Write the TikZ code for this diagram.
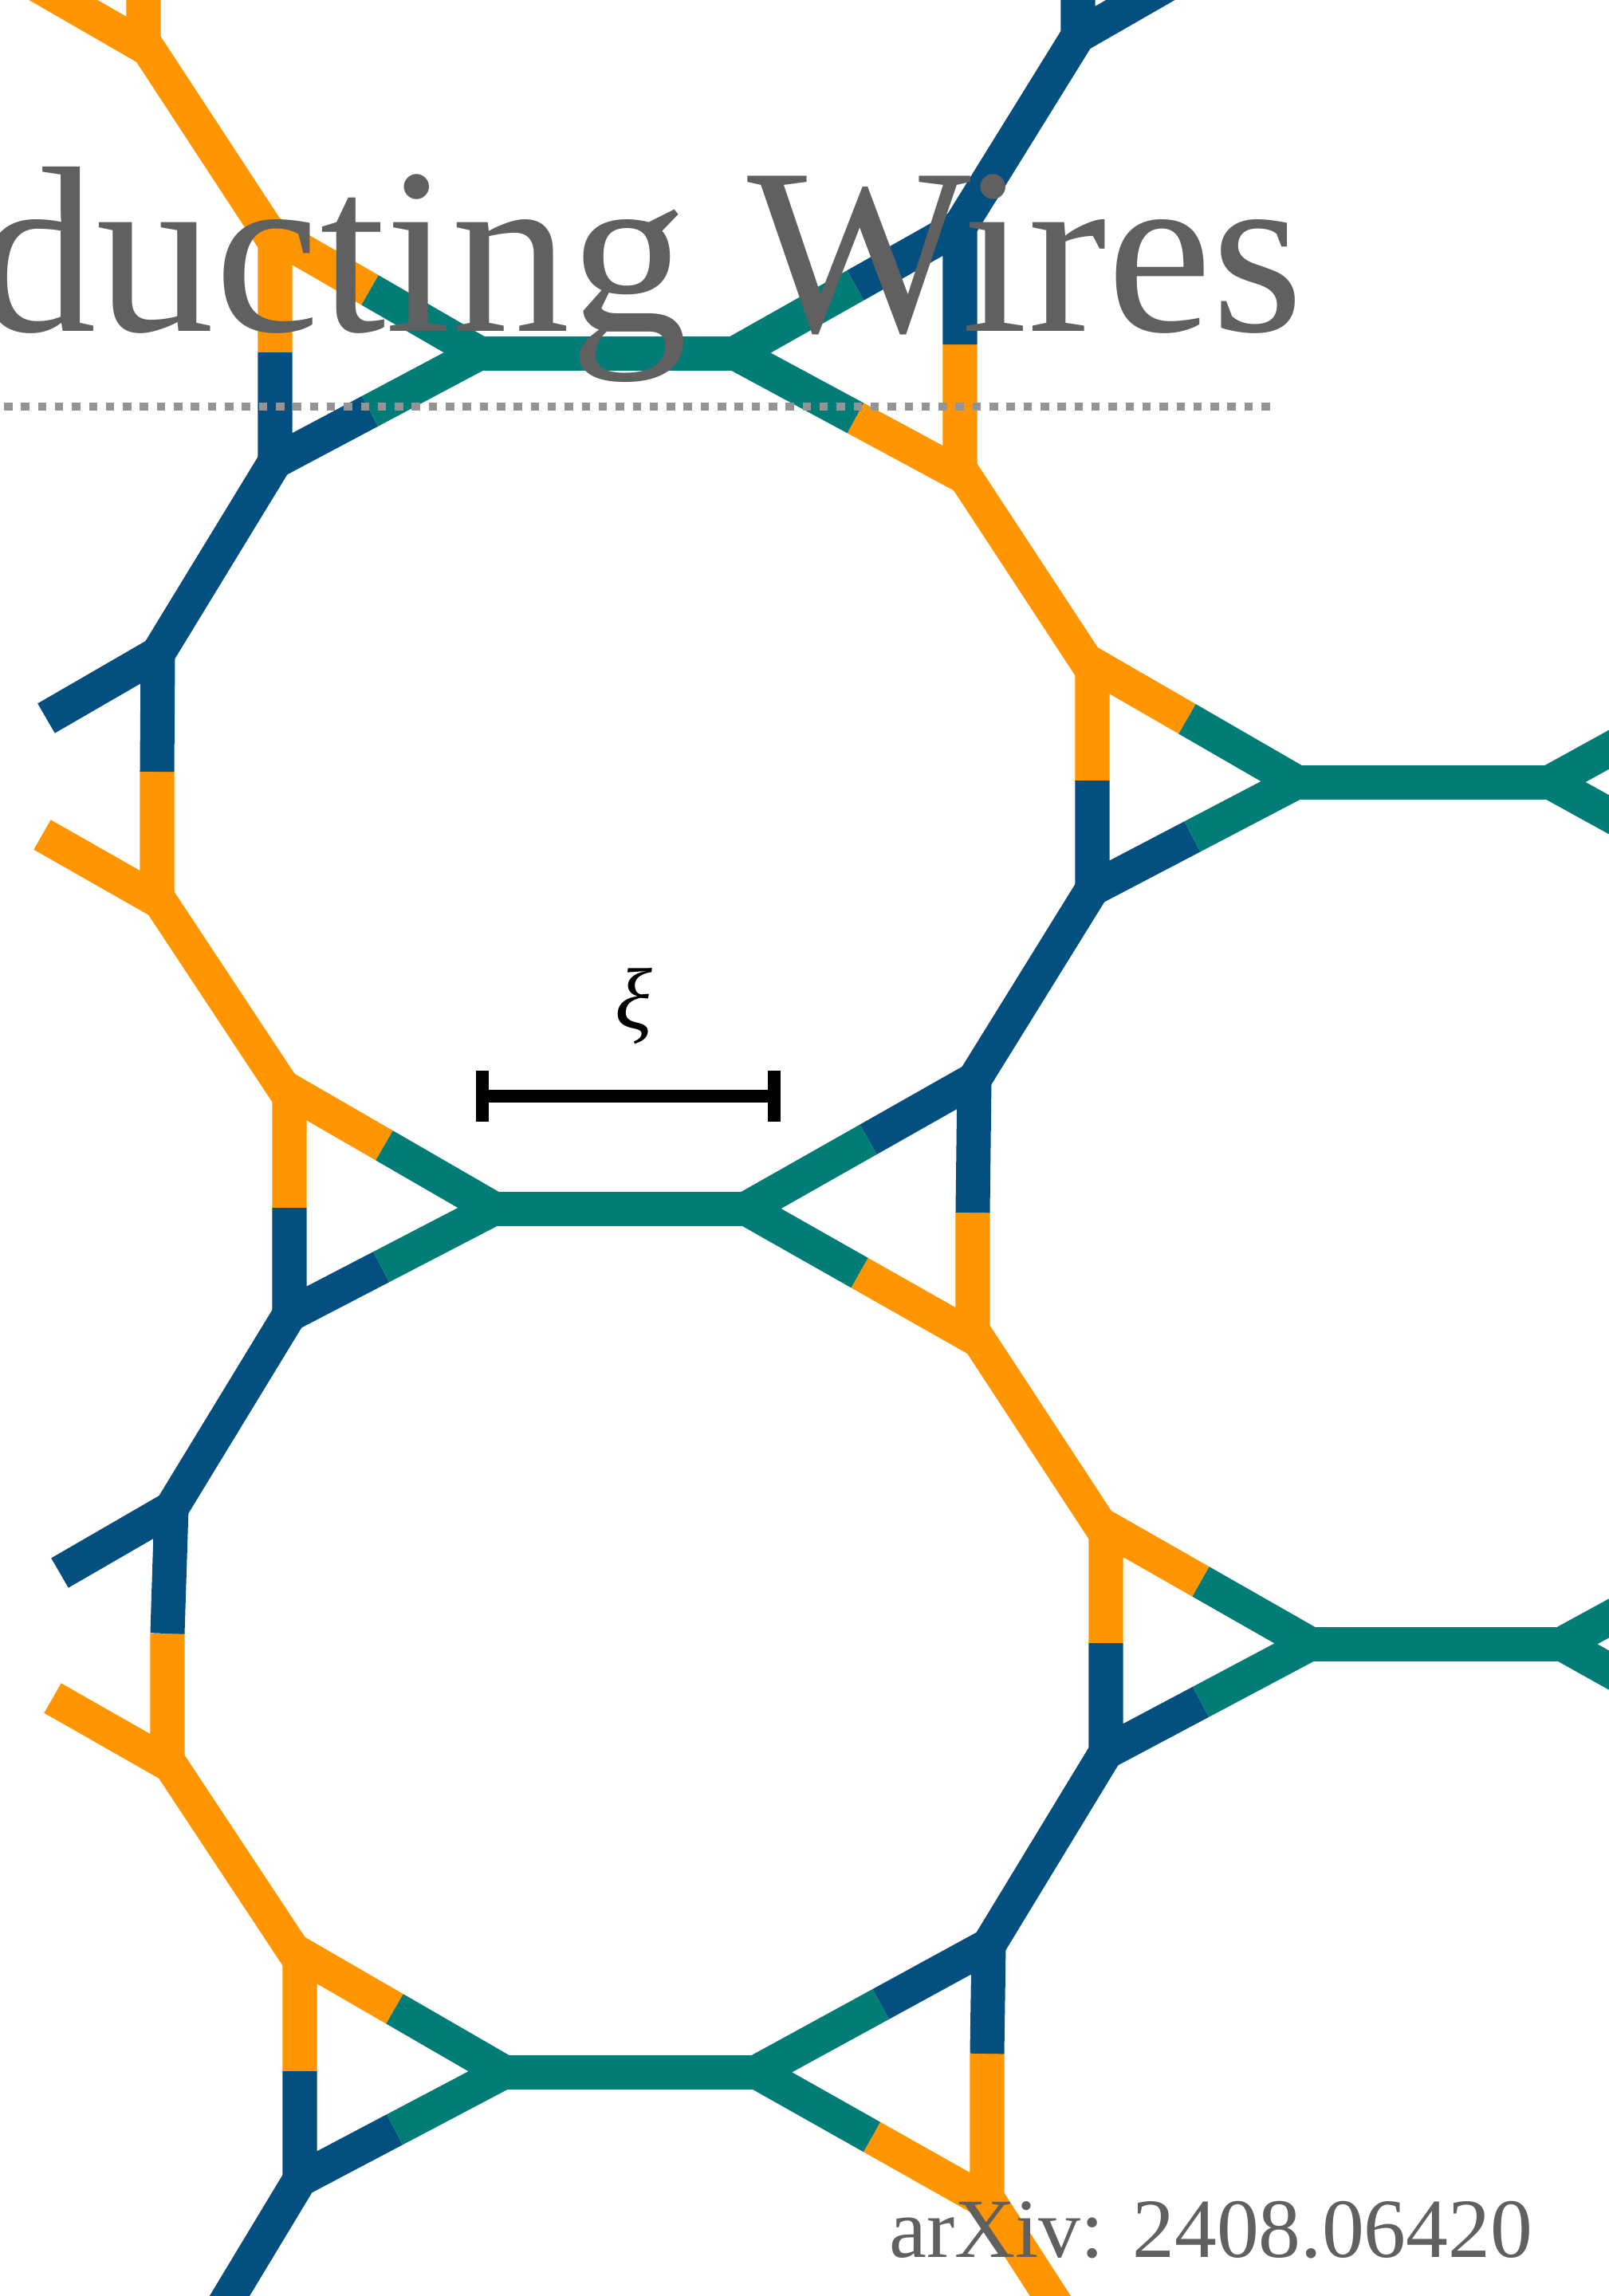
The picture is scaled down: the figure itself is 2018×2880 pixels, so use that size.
\documentclass[tikz,border=0pt]{standalone}
\usepackage{fontspec}
\usepackage{xcolor}
\usetikzlibrary{arrows.meta,calc}
\setmainfont{Liberation Serif}
\definecolor{wireorange}{RGB}{255,149,0}
\definecolor{wireblue}{RGB}{2,79,128}
\definecolor{wireteal}{RGB}{2,124,118}
\definecolor{inkgray}{RGB}{96,96,96}
\definecolor{dotgray}{RGB}{148,148,148}

\begin{document}
\begin{tikzpicture}[
    x=0.01cm, y=-0.01cm,
    orangewire/.style={draw=wireorange, line width=0.43cm, line join=miter},
    bluewire/.style={draw=wireblue, line width=0.43cm, line join=miter},
    tealwire/.style={draw=wireteal, line width=0.43cm, line join=miter},
    scalebar/.style={{Bar[width=0.64cm,line width=0.16cm,length=0pt]}-{Bar[width=0.64cm,line width=0.16cm,length=0pt]}, line width=0.16cm},
    bigtext/.style={text=inkgray, inner sep=0pt, font=\fontsize{84.5pt}{90pt}\selectfont},
    smalltext/.style={text=inkgray, inner sep=0pt, font=\fontsize{30.05pt}{34pt}\selectfont}
]
    \useasboundingbox (0,0) rectangle (2018,2880);
    \clip (0,0) rectangle (2018,2880);

    % upper row
    \coordinate (topl) at (180,58);
    \coordinate (topr) at (1352,45);
    \coordinate (lt1) at (345,295);
    \coordinate (ls1) at (345,442);
    \coordinate (lb1) at (345,579);
    \coordinate (la1) at (601,443);
    \coordinate (ra1) at (922,443);
    \coordinate (rt1) at (1204,284);
    \coordinate (rs1) at (1204,432);
    \coordinate (rb1) at (1204,595);
    % middle row
    \coordinate (lt2) at (363,1368);
    \coordinate (ls2) at (363,1515);
    \coordinate (lb2) at (363,1649);
    \coordinate (la2) at (619,1516);
    \coordinate (ra2) at (936,1516);
    \coordinate (rt2) at (1222,1354);
    \coordinate (rs2) at (1220,1521);
    \coordinate (rb2) at (1220,1677);
    % lower row
    \coordinate (lt3) at (376,2451);
    \coordinate (ls3) at (376,2598);
    \coordinate (lb3) at (376,2734);
    \coordinate (la3) at (632,2599);
    \coordinate (ra3) at (949,2599);
    \coordinate (rt3) at (1240,2440);
    \coordinate (rs3) at (1238,2576);
    \coordinate (rb3) at (1238,2762);
    % right column
    \coordinate (ct1) at (1370,833);
    \coordinate (cs1) at (1370,979);
    \coordinate (cb1) at (1370,1115);
    \coordinate (ca1) at (1626,981);
    \coordinate (cr1) at (1944,981);
    \coordinate (ct2) at (1387,1916);
    \coordinate (cs2) at (1387,2061);
    \coordinate (cb2) at (1387,2198);
    \coordinate (ca2) at (1643,2062);
    \coordinate (cr2) at (1959,2062);
    % left column
    \coordinate (et1) at (198,820);
    \coordinate (es1) at (197,968);
    \coordinate (eb1) at (197,1129);
    \coordinate (ef1) at (58,901);
    \coordinate (eg1) at (53,1047);
    \coordinate (et2) at (215,1892);
    \coordinate (es2) at (210,2049);
    \coordinate (eb2) at (210,2212);
    \coordinate (ef2) at (75,1973);
    \coordinate (eg2) at (66,2130);
    % ends of the long orange lines
    \coordinate (on1) at (180,52);
    \coordinate (of1) at (345,304);
    \coordinate (on2) at (1204,588);
    \coordinate (of2) at (1370,841);
    \coordinate (on3) at (197,1125);
    \coordinate (of3) at (363,1376);
    \coordinate (on4) at (1220,1669);
    \coordinate (of4) at (1387,1924);
    \coordinate (on5) at (210,2208);
    \coordinate (of5) at (376,2459);
    \coordinate (on6) at (1238,2757);
    % ends outside the page
    \coordinate (upl) at (180,-40);
    \coordinate (arml) at (10,-40);
    \coordinate (upr) at (1352,-40);
    \coordinate (armr) at (1500,-40);
    \coordinate (outb) at (268,2913);
    \coordinate (outo) at (1340,2915);
    \coordinate (cu1) at (2100,895);
    \coordinate (cd1) at (2100,1067);
    \coordinate (cu2) at (2100,1985);
    \coordinate (cd2) at (2100,2141);

    % orange lines
    \draw[orangewire] (upl) -- (topl) -- (arml);
    \draw[orangewire] (on1) -- (of1);
    \draw[orangewire] (ls1) -- (lt1) -- ($(la1)!0.535!(lt1)$);
    \draw[orangewire] (rs1) -- (rb1) -- ($(ra1)!0.535!(rb1)$);
    \draw[orangewire] (on2) -- (of2);
    \draw[orangewire] (cs1) -- (ct1) -- ($(ca1)!0.535!(ct1)$);
    \draw[orangewire] (es1) -- (eb1) -- (eg1);
    \draw[orangewire] (on3) -- (of3);
    \draw[orangewire] (ls2) -- (lt2) -- ($(la2)!0.535!(lt2)$);
    \draw[orangewire] (rs2) -- (rb2) -- ($(ra2)!0.5!(rb2)$);
    \draw[orangewire] (on4) -- (of4);
    \draw[orangewire] (cs2) -- (ct2) -- ($(ca2)!0.535!(ct2)$);
    \draw[orangewire] (es2) -- (eb2) -- (eg2);
    \draw[orangewire] (on5) -- (of5);
    \draw[orangewire] (ls3) -- (lt3) -- ($(la3)!0.535!(lt3)$);
    \draw[orangewire] (rs3) -- (rb3) -- ($(ra3)!0.5!(rb3)$);
    \draw[orangewire] (on6) -- (outo);

    % blue lines
    \draw[bluewire] (upr) -- (topr) -- (armr);
    \draw[bluewire] (topr) -- (rt1);
    \draw[bluewire] (rs1) -- (rt1) -- ($(ra1)!0.535!(rt1)$);
    \draw[bluewire] (ls1) -- (lb1) -- ($(la1)!0.535!(lb1)$);
    \draw[bluewire] (lb1) -- (et1);
    \draw[bluewire] (es1) -- (et1) -- (ef1);
    \draw[bluewire] (cs1) -- (cb1) -- ($(ca1)!0.51!(cb1)$);
    \draw[bluewire] (cb1) -- (rt2);
    \draw[bluewire] (rs2) -- (rt2) -- ($(ra2)!0.535!(rt2)$);
    \draw[bluewire] (ls2) -- (lb2) -- ($(la2)!0.55!(lb2)$);
    \draw[bluewire] (lb2) -- (et2);
    \draw[bluewire] (es2) -- (et2) -- (ef2);
    \draw[bluewire] (cs2) -- (cb2) -- ($(ca2)!0.535!(cb2)$);
    \draw[bluewire] (cb2) -- (rt3);
    \draw[bluewire] (rs3) -- (rt3) -- ($(ra3)!0.535!(rt3)$);
    \draw[bluewire] (ls3) -- (lb3) -- ($(la3)!0.535!(lb3)$);
    \draw[bluewire] (lb3) -- (outb);

    % teal bridges
    \draw[tealwire] ($(la1)!0.535!(lt1)$) -- (la1) -- ($(la1)!0.535!(lb1)$);
    \draw[tealwire] ($(ra1)!0.535!(rt1)$) -- (ra1) -- ($(ra1)!0.535!(rb1)$);
    \draw[tealwire] (la1) -- (ra1);
    \draw[tealwire] ($(la2)!0.535!(lt2)$) -- (la2) -- ($(la2)!0.55!(lb2)$);
    \draw[tealwire] ($(ra2)!0.535!(rt2)$) -- (ra2) -- ($(ra2)!0.5!(rb2)$);
    \draw[tealwire] (la2) -- (ra2);
    \draw[tealwire] ($(la3)!0.535!(lt3)$) -- (la3) -- ($(la3)!0.535!(lb3)$);
    \draw[tealwire] ($(ra3)!0.535!(rt3)$) -- (ra3) -- ($(ra3)!0.5!(rb3)$);
    \draw[tealwire] (la3) -- (ra3);
    \draw[tealwire] ($(ca1)!0.535!(ct1)$) -- (ca1) -- ($(ca1)!0.51!(cb1)$);
    \draw[tealwire] (cu1) -- (cr1) -- (cd1);
    \draw[tealwire] (ca1) -- (cr1);
    \draw[tealwire] ($(ca2)!0.535!(ct2)$) -- (ca2) -- ($(ca2)!0.535!(cb2)$);
    \draw[tealwire] (cu2) -- (cr2) -- (cd2);
    \draw[tealwire] (ca2) -- (cr2);

    % length scale
    \coordinate (barl) at (597,1375);
    \coordinate (barr) at (979,1375);
    \draw[scalebar] (barl) -- (barr);
    \node[inner sep=0pt, font=\fontsize{31pt}{34pt}\selectfont\itshape] (xi) at (795,1262) {ξ};

    % cropped title and dotted rule
    \node[bigtext, anchor=base east] (title) at (1636,415) {ducting Wires};
    \coordinate (rulel) at (5,510);
    \coordinate (ruler) at (1596,510);
    \draw[dotgray, line width=0.105cm, dash pattern=on 0.105cm off 0.108cm] (rulel) -- (ruler);
    \node[smalltext, anchor=base east] (arxiv) at (1923,2831) {arXiv: 2408.06420};
\end{tikzpicture}
\end{document}
